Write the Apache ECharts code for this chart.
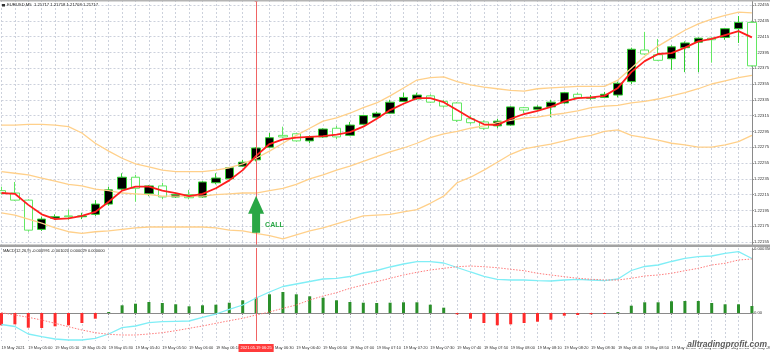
<!DOCTYPE html>
<html><head><meta charset="utf-8">
<script src="https://cdn.jsdelivr.net/npm/echarts@6/dist/echarts.min.js"></script>
<style>html,body{margin:0;padding:0;background:#fff}#c{width:770px;height:354px}</style>
</head><body><div id="c"></div>
<script>
// ---- data ----
const times = ["04:50","04:55","05:00","05:05","05:10","05:15","05:20","05:25","05:30","05:35","05:40","05:45","05:50","05:55","06:00","06:05","06:10","06:15","06:20","06:25","06:30","06:35","06:40","06:45","06:50","06:55","07:00","07:05","07:10","07:15","07:20","07:25","07:30","07:35","07:40","07:45","07:50","07:55","08:00","08:05","08:10","08:15","08:20","08:25","08:30","08:35","08:40","08:45","08:50","08:55","09:00","09:05","09:10","09:15","09:20","09:25","09:30"];
const openP = [1.22220,1.22217,1.22208,1.22171,1.22185,1.22188,1.22187,1.22190,1.22203,1.22222,1.22237,1.22216,1.22226,1.22212,1.22215,1.22212,1.22230,1.22235,1.22251,1.22259,1.22275,1.22290,1.22292,1.22283,1.22288,1.22299,1.22290,1.22304,1.22313,1.22318,1.22333,1.22336,1.22340,1.22333,1.22331,1.22311,1.22307,1.22302,1.22303,1.22325,1.22323,1.22326,1.22331,1.22342,1.22337,1.22338,1.22341,1.22358,1.22398,1.22392,1.22387,1.22401,1.22408,1.22413,1.22414,1.22425,1.22433];
const closeP = [1.22217,1.22208,1.22170,1.22184,1.22187,1.22187,1.22188,1.22203,1.22221,1.22237,1.22223,1.22226,1.22212,1.22215,1.22211,1.22231,1.22236,1.22249,1.22256,1.22274,1.22287,1.22288,1.22283,1.22288,1.22298,1.22288,1.22303,1.22315,1.22318,1.22332,1.22338,1.22341,1.22332,1.22327,1.22309,1.22306,1.22299,1.22308,1.22326,1.22322,1.22326,1.22332,1.22344,1.22338,1.22338,1.22342,1.22356,1.22399,1.22393,1.22385,1.22402,1.22407,1.22413,1.22411,1.22425,1.22433,1.22378];
const lowP = [1.22215,1.22207,1.22168,1.22169,1.22183,1.22183,1.22184,1.22188,1.22201,1.22221,1.22206,1.22213,1.22209,1.22211,1.22209,1.22211,1.22228,1.22233,1.22250,1.22257,1.22274,1.22287,1.22282,1.22280,1.22287,1.22285,1.22289,1.22303,1.22312,1.22317,1.22332,1.22335,1.22331,1.22325,1.22307,1.22304,1.22297,1.22299,1.22302,1.22318,1.22321,1.22313,1.22330,1.22336,1.22335,1.22337,1.22338,1.22355,1.22392,1.22384,1.22373,1.22370,1.22370,1.22382,1.22411,1.22407,1.22377];
const highP = [1.22225,1.22231,1.22209,1.22187,1.22190,1.22196,1.22192,1.22208,1.22225,1.22242,1.22240,1.22227,1.22230,1.22217,1.22221,1.22232,1.22242,1.22250,1.22259,1.22275,1.22293,1.22301,1.22293,1.22290,1.22299,1.22302,1.22307,1.22316,1.22320,1.22335,1.22344,1.22344,1.22342,1.22335,1.22332,1.22315,1.22309,1.22311,1.22327,1.22326,1.22328,1.22335,1.22345,1.22344,1.22341,1.22345,1.22358,1.22401,1.22421,1.22412,1.22404,1.22409,1.22414,1.22414,1.22426,1.22441,1.22435];
const maLine = [1.22217,1.22216,1.22202,1.22190,1.22184,1.22185,1.22188,1.22193,1.22206,1.22220,1.22225,1.22225,1.22220,1.22217,1.22213,1.22216,1.22223,1.22233,1.22246,1.22264,1.22279,1.22285,1.22287,1.22288,1.22289,1.22291,1.22294,1.22301,1.22311,1.22322,1.22330,1.22337,1.22337,1.22332,1.22322,1.22312,1.22304,1.22303,1.22311,1.22317,1.22321,1.22326,1.22333,1.22337,1.22338,1.22340,1.22350,1.22370,1.22384,1.22393,1.22394,1.22401,1.22409,1.22412,1.22417,1.22422,1.22414];
const bbUpper = [1.22303,1.22303,1.22304,1.22304,1.22303,1.22301,1.22293,1.22280,1.22270,1.22261,1.22254,1.22250,1.22246,1.22244,1.22244,1.22244,1.22246,1.22249,1.22254,1.22261,1.22270,1.22280,1.22290,1.22299,1.22308,1.22312,1.22318,1.22325,1.22331,1.22340,1.22350,1.22360,1.22363,1.22364,1.22358,1.22354,1.22351,1.22349,1.22347,1.22346,1.22349,1.22350,1.22351,1.22352,1.22352,1.22352,1.22360,1.22375,1.22390,1.22403,1.22413,1.22423,1.22431,1.22437,1.22442,1.22446,1.22445];
const bbMiddle = [1.22244,1.22242,1.22240,1.22236,1.22232,1.22228,1.22226,1.22222,1.22220,1.22217,1.22216,1.22215,1.22213,1.22213,1.22213,1.22213,1.22215,1.22216,1.22217,1.22217,1.22220,1.22223,1.22228,1.22235,1.22240,1.22246,1.22251,1.22257,1.22263,1.22269,1.22274,1.22280,1.22287,1.22292,1.22295,1.22299,1.22302,1.22306,1.22309,1.22312,1.22313,1.22316,1.22318,1.22321,1.22325,1.22327,1.22328,1.22331,1.22333,1.22336,1.22340,1.22344,1.22349,1.22355,1.22359,1.22363,1.22366];
const bbLower = [1.22192,1.22189,1.22184,1.22179,1.22173,1.22168,1.22166,1.22168,1.22169,1.22171,1.22173,1.22174,1.22174,1.22174,1.22174,1.22174,1.22173,1.22170,1.22169,1.22166,1.22163,1.22159,1.22164,1.22169,1.22173,1.22178,1.22183,1.22188,1.22189,1.22190,1.22193,1.22196,1.22204,1.22213,1.22230,1.22237,1.22246,1.22256,1.22266,1.22273,1.22276,1.22279,1.22283,1.22287,1.22290,1.22295,1.22297,1.22290,1.22287,1.22284,1.22280,1.22278,1.22275,1.22275,1.22278,1.22282,1.22290];
const macdHist = [-0.0000684,-0.0000629,-0.0000818,-0.0000834,-0.0000740,-0.0000684,-0.0000556,-0.0000317,0.0000056,0.0000428,0.0000517,0.0000612,0.0000556,0.0000484,0.0000373,0.0000428,0.0000462,0.0000573,0.0000706,0.0000851,0.0001040,0.0001168,0.0001040,0.0000929,0.0000851,0.0000706,0.0000612,0.0000573,0.0000556,0.0000573,0.0000595,0.0000595,0.0000462,0.0000295,-0.0000072,-0.0000317,-0.0000556,-0.0000684,-0.0000629,-0.0000556,-0.0000484,-0.0000373,-0.0000150,-0.0000111,-0.0000072,-0.0000056,0.0000056,0.0000406,0.0000595,0.0000595,0.0000651,0.0000667,0.0000667,0.0000556,0.0000484,0.0000484,0.0000389];
const macdMain = [-0.0000640,-0.0000751,-0.0001168,-0.0001318,-0.0001446,-0.0001502,-0.0001502,-0.0001407,-0.0001168,-0.0000818,-0.0000723,-0.0000540,-0.0000484,-0.0000462,-0.0000445,-0.0000239,-0.0000056,0.0000206,0.0000445,0.0000834,0.0001168,0.0001474,0.0001613,0.0001752,0.0001891,0.0001930,0.0002030,0.0002225,0.0002364,0.0002559,0.0002726,0.0002854,0.0002854,0.0002781,0.0002531,0.0002281,0.0002041,0.0001875,0.0001836,0.0001836,0.0001797,0.0001780,0.0001836,0.0001875,0.0001836,0.0001797,0.0001891,0.0002364,0.0002587,0.0002670,0.0002865,0.0003043,0.0003132,0.0003171,0.0003321,0.0003410,0.0003032];
const macdSignal = [0.0000017,-0.0000111,-0.0000239,-0.0000389,-0.0000573,-0.0000762,-0.0000946,-0.0001096,-0.0001185,-0.0001224,-0.0001224,-0.0001168,-0.0001096,-0.0000985,-0.0000851,-0.0000723,-0.0000573,-0.0000428,-0.0000295,-0.0000111,0.0000056,0.0000261,0.0000445,0.0000723,0.0000946,0.0001129,0.0001374,0.0001558,0.0001741,0.0001930,0.0002114,0.0002264,0.0002392,0.0002486,0.0002575,0.0002614,0.0002575,0.0002520,0.0002431,0.0002353,0.0002208,0.0002114,0.0002019,0.0001930,0.0001875,0.0001836,0.0001836,0.0001930,0.0002058,0.0002114,0.0002208,0.0002353,0.0002486,0.0002670,0.0002765,0.0002948,0.0003004];
const priceTickMin = 1.22155, priceTickMax = 1.22455, priceTickStep = 0.0002;
const macdTickMax = 0.000356;
const signalIndex = 19;
const signalPrice = 1.22190;
const signalLabel = '2021.05.19 06:25';
const firstDateLabel = '19 May 2021';
const datePrefix = '19 May ';
const headerText = 'EURUSD,M5  1.21717 1.21718 1.21708 1.21717';
const macdHeaderText = 'MACD(12,26,9) -0.000991 -0.001020 0.000029 0.000000';

// ---- layout ----
const L = 1.5, R = 18.1;
const lblTop = 5, lblH = 237, dTop = 0, dH = 246;
const ppu = lblH / (priceTickMax - priceTickMin);
const dMax = priceTickMax + (lblTop - dTop) / ppu;
const dMin = priceTickMin - ((dTop + dH) - (lblTop + lblH)) / ppu;
const mLblTop = 249, mLblH = 64, mTop = 248, mH = 93;
const mppu = mLblH / macdTickMax;
const mMax = macdTickMax + (mLblTop - mTop) / mppu;
const mMin = -((mTop + mH) - (mLblTop + mLblH)) / mppu;

const gridC = '#ccd1dc';
const axisC = '#8a8a8a';
const txtC = '#333';
const small = 4.2;

const chart = echarts.init(document.getElementById('c'), null, {renderer: 'canvas'});
const g = (top, height) => ({left: L, right: R, top: top, height: height, containLabel: false, outerBoundsMode: 'none'});
const hiddenX = (gi) => ({gridIndex: gi, type: 'category', data: times, boundaryGap: false, show: false});
const vSplit = {show: true, interval: 0, lineStyle: {color: gridC, type: [2, 2], width: 1}};

const option = {
  animation: false,
  backgroundColor: '#ffffff',
  grid: [g(dTop, dH), g(lblTop, lblH), g(mTop, mH), g(mLblTop, mLblH)],
  xAxis: [
    {gridIndex: 0, type: 'category', data: times, boundaryGap: false,
     axisLine: {show: false}, axisTick: {show: false}, axisLabel: {show: false}, splitLine: vSplit},
    hiddenX(1),
    {gridIndex: 2, type: 'category', data: times, boundaryGap: false,
     axisLine: {show: true, lineStyle: {color: axisC}},
     axisTick: {show: true, interval: 1, length: 2, lineStyle: {color: axisC}},
     axisLabel: {show: true, interval: 1, align: 'left', fontSize: 4, color: txtC, margin: 5,
       fontFamily: 'Liberation Sans',
       formatter: (v, i) => i === 0 ? firstDateLabel : datePrefix + v},
     splitLine: vSplit},
    hiddenX(3)
  ],
  yAxis: [
    {gridIndex: 0, type: 'value', position: 'right', min: dMin, max: dMax, scale: true,
     axisLine: {show: true, lineStyle: {color: axisC}}, axisTick: {show: false},
     axisLabel: {show: false}, splitLine: {show: false}},
    {gridIndex: 1, type: 'value', position: 'right', min: priceTickMin, max: priceTickMax, interval: priceTickStep, scale: true,
     axisLine: {show: false}, axisTick: {show: true, length: 2, lineStyle: {color: axisC}},
     axisLabel: {fontSize: small, color: txtC, margin: 2, fontFamily: 'Liberation Sans', formatter: v => v.toFixed(5)},
     splitLine: {show: true, lineStyle: {color: gridC, type: [2, 2], width: 1}}},
    {gridIndex: 2, type: 'value', position: 'right', min: mMin, max: mMax,
     axisLine: {show: true, lineStyle: {color: axisC}}, axisTick: {show: false},
     axisLabel: {show: false}, splitLine: {show: false}},
    {gridIndex: 3, type: 'value', position: 'right', min: 0, max: macdTickMax, interval: macdTickMax,
     axisLine: {show: false}, axisTick: {show: true, length: 2, lineStyle: {color: axisC}},
     axisLabel: {fontSize: small, color: txtC, margin: 2, fontFamily: 'Liberation Sans', formatter: v => v === 0 ? '0.00' : v.toFixed(6)},
     splitLine: {show: true, lineStyle: {color: ['#b4b8c4', 'rgba(0,0,0,0)'], type: [2, 2], width: 1}}}
  ],
  series: [
    {type: 'candlestick', xAxisIndex: 0, yAxisIndex: 0, z: 2, barWidth: 9,
     data: times.map((t, i) => [openP[i], closeP[i], lowP[i], highP[i]]),
     itemStyle: {color: '#000000', color0: '#ffffff', borderColor: '#2fcf2f', borderColor0: '#62e862', borderWidth: 1},
     markLine: {silent: true, symbol: ['none', 'circle'], symbolSize: 4,
       lineStyle: {color: '#f06464', width: 1, type: 'solid'}, label: {show: false},
       data: [{xAxis: times[signalIndex]}]},
     markPoint: {silent: true, data: [{
       coord: [times[signalIndex], signalPrice],
       symbol: 'path://M8 0 L16 18 L12 18 L12 37 L4 37 L4 18 L0 18 Z',
       symbolSize: [16, 37],
       itemStyle: {color: '#29a745'},
       label: {show: true, formatter: 'CALL', position: 'right', distance: 1, offset: [0, 11],
         color: '#29a745', fontSize: 7, fontWeight: 'bold', fontFamily: 'Liberation Sans'}
     }]}},
    {type: 'line', xAxisIndex: 0, yAxisIndex: 0, z: 3, data: bbUpper, symbol: 'none', lineStyle: {color: '#ffd08a', width: 1.3}},
    {type: 'line', xAxisIndex: 0, yAxisIndex: 0, z: 3, data: bbMiddle, symbol: 'none', lineStyle: {color: '#ffd08a', width: 1.3}},
    {type: 'line', xAxisIndex: 0, yAxisIndex: 0, z: 3, data: bbLower, symbol: 'none', lineStyle: {color: '#ffd08a', width: 1.3}},
    {type: 'line', xAxisIndex: 0, yAxisIndex: 0, z: 4, data: maLine, symbol: 'none', lineStyle: {color: '#ff1e1e', width: 1.8}},
    {type: 'bar', xAxisIndex: 2, yAxisIndex: 2, z: 2, barWidth: 3, data: macdHist,
     itemStyle: {color: p => p.value >= 0 ? '#2a8f2a' : '#ff2a2a'},
     markLine: {silent: true, symbol: ['none', 'none'],
       lineStyle: {color: '#f06464', width: 1, type: 'solid'},
       label: {show: true, position: 'start', formatter: signalLabel, distance: 3,
         color: '#ffffff', backgroundColor: '#ff3b3b', fontSize: 4, padding: [2, 2], fontFamily: 'Liberation Sans'},
       data: [{xAxis: times[signalIndex]}]}},
    {type: 'line', xAxisIndex: 2, yAxisIndex: 2, z: 3, data: macdMain, symbol: 'none', lineStyle: {color: '#80eef6', width: 1.3}},
    {type: 'line', xAxisIndex: 2, yAxisIndex: 2, z: 3, data: macdSignal, symbol: 'none', lineStyle: {color: '#ff7a7a', width: 1, type: [1.5, 1.5]}}
  ],
  graphic: [
    {type: 'rect', z: 50, shape: {x: 0, y: 0, width: 770, height: 1.5}, style: {fill: '#b4b4b4'}},
    {type: 'rect', z: 50, shape: {x: 0, y: 244.5, width: 770, height: 2.5}, style: {fill: '#a2a2a2'}},
    {type: 'rect', z: 50, shape: {x: 2, y: 4, width: 3, height: 2.5}, style: {fill: '#333'}},
    {type: 'text', z: 50, x: 7, y: 3, style: {text: headerText, fontSize: small, fill: '#222', fontFamily: 'Liberation Sans'}},
    {type: 'text', z: 50, x: 3, y: 249, style: {text: macdHeaderText, fontSize: 4, fill: '#222', fontFamily: 'Liberation Sans'}},
    {type: 'text', z: 50, x: 767, y: 340, style: {text: 'alltradingprofit.com', fontSize: 8.5, fontStyle: 'italic', fontWeight: 'bold',
      align: 'right', fill: '#5a5a5a', stroke: '#ffffff', lineWidth: 2, fontFamily: 'Liberation Sans'}}
  ]
};
chart.setOption(option);
</script>
</body></html>
